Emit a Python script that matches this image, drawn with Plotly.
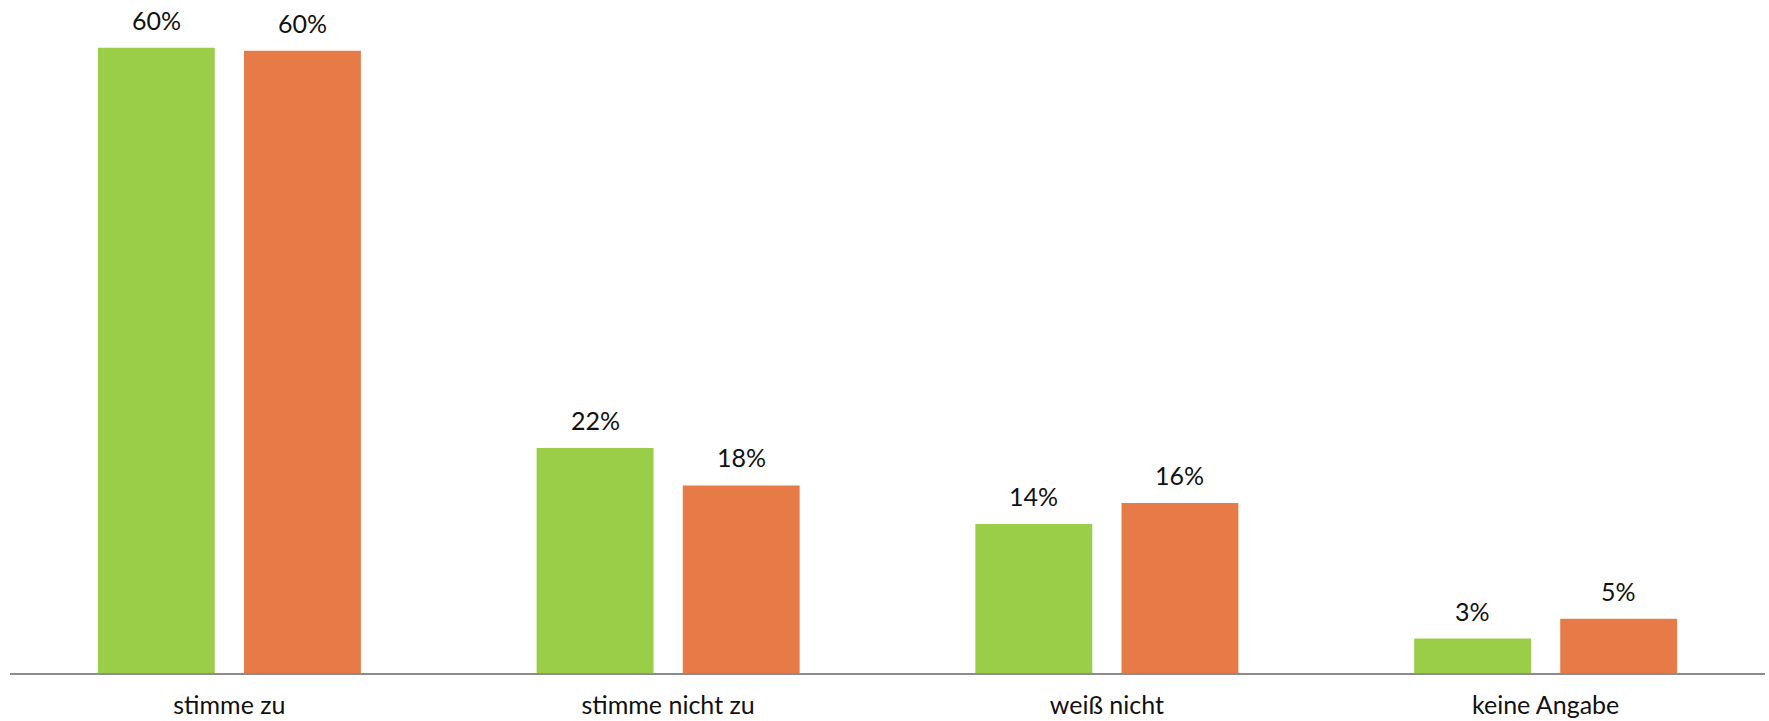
import plotly.graph_objects as go

categories = ["stimme zu", "stimme nicht zu", "weiß nicht", "keine Angabe"]
series_a = [60.0, 21.6, 14.3, 3.3]
series_b = [59.7, 18.0, 16.3, 5.2]
color_a = "#9ACD48"
color_b = "#E77B47"

fig = go.Figure()
fig.add_trace(go.Bar(x=categories, y=series_a, marker=dict(color=color_a, line=dict(width=0)), name="A"))
fig.add_trace(go.Bar(x=categories, y=series_b, marker=dict(color=color_b, line=dict(width=0)), name="B"))

font_family = "Lato, 'Open Sans', sans-serif"
annotations = []
for vals, shift in ((series_a, -73), (series_b, 73)):
    for c, v in zip(categories, vals):
        annotations.append(dict(
            x=c, y=v, xref="x", yref="y", text=f"{round(v):.0f}%",
            showarrow=False, xshift=shift, yanchor="bottom", yshift=11,
            font=dict(family=font_family, size=25, color="#111111"),
        ))

fig.update_layout(
    width=1769, height=721,
    margin=dict(l=10, r=4, t=6, b=48),
    paper_bgcolor="white", plot_bgcolor="white",
    barmode="group", bargap=0.334, bargroupgap=0.2,
    showlegend=False,
    annotations=annotations,
    font=dict(family=font_family, size=25, color="#111111"),
    xaxis=dict(showline=True, linecolor="#8C8C8C", linewidth=1.5, ticks="",
               showgrid=False, zeroline=False, tickfont=dict(size=25),
               ticklabelstandoff=9, automargin=False),
    yaxis=dict(range=[0, 64], visible=False, showgrid=False, zeroline=False,
               automargin=False),
)

fig.write_html("out.html")
